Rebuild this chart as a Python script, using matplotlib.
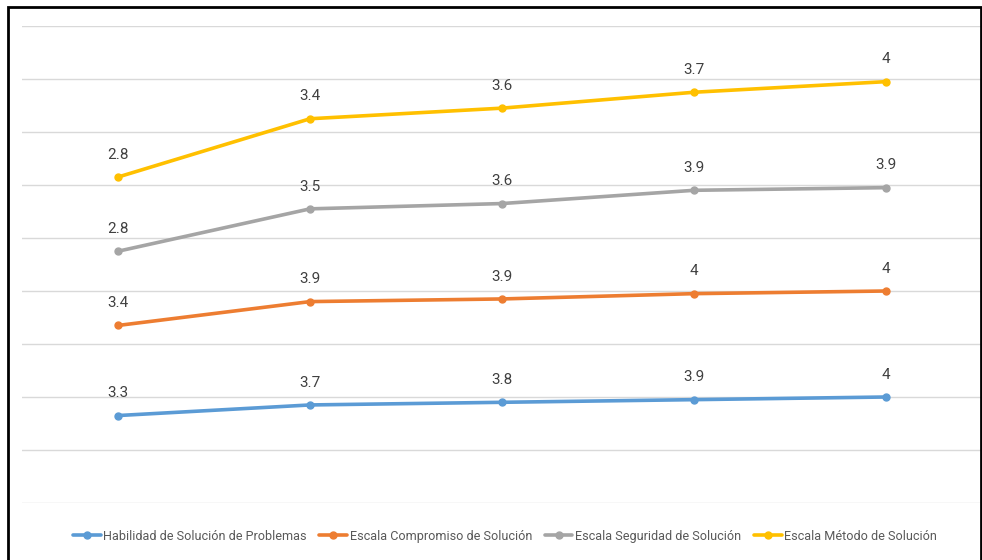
import numpy as np
import matplotlib.pyplot as plt
from matplotlib.patches import Rectangle

plt.rcParams['font.family'] = ['Liberation Sans Narrow', 'Roboto', 'DejaVu Sans']

categories = ['1', '2', '3', '4', '5']
habilidad = [3.3, 3.7, 3.8, 3.9, 4]
compromiso = [3.4, 3.9, 3.9, 4, 4]
seguridad = [2.8, 3.5, 3.6, 3.9, 3.9]
metodo = [2.8, 3.4, 3.6, 3.7, 4]

names = ['Habilidad de Solución de Problemas', 'Escala Compromiso de Solución',
         'Escala Seguridad de Solución', 'Escala Método de Solución']
colors = ['#5B9BD5', '#ED7D31', '#A5A5A5', '#FFC000']

series = [habilidad, compromiso, seguridad, metodo]
stacked = np.cumsum(np.array(series), axis=0)

fig = plt.figure(figsize=(9.82, 5.6), dpi=100)
ax = fig.add_axes([22 / 982, 57 / 560, 960 / 982, 477 / 560])

x = np.arange(len(categories))
for vals, tops, name, c in zip(series, stacked, names, colors):
    ax.plot(x, tops, color=c, lw=2.6, marker='o', ms=5, label=name,
            solid_capstyle='round')
    for xi, ti, v in zip(x, tops, vals):
        ax.annotate(f'{v:g}', (xi, ti), xytext=(0, 11), textcoords='offset points',
                    ha='center', va='bottom', fontsize=11, color='#404040')

ax.set_xlim(-0.5, 4.5)
ax.set_ylim(0, 18)
ax.set_yticks(np.arange(0, 19, 2))
ax.set_xticks([])
ax.tick_params(left=False, labelleft=False)
ax.grid(axis='y', color='#D9D9D9', lw=1)
for s in ax.spines.values():
    s.set_visible(False)

ax.legend(loc='center', bbox_to_anchor=(0.503, -0.07), ncol=4, frameon=False,
          fontsize=9.1, handlelength=2.2, handletextpad=0.2, columnspacing=1.0,
          labelcolor='#595959')

fig.patches.append(Rectangle((8 / 982, -0.05), 973 / 982, 1.05 - 7 / 560,
                             transform=fig.transFigure, fill=False,
                             edgecolor='black', lw=2))

fig.savefig('out.png', dpi=100)
